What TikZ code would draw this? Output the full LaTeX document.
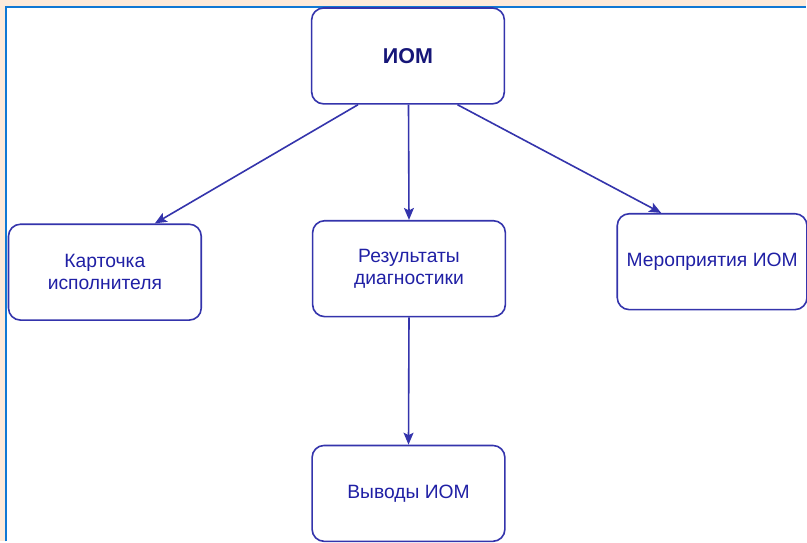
\documentclass[tikz,border=0pt]{standalone}
\usepackage{fontspec}
\setmainfont{Liberation Sans}
\usepackage{xcolor}
\usetikzlibrary{
    arrows.meta,
    shapes,
    positioning
}
\definecolor{peach}{RGB}{253,234,218}
\definecolor{framblue}{RGB}{16,120,212}
\definecolor{boxblue}{RGB}{52,52,172}
\definecolor{txtblue}{RGB}{32,32,165}
\definecolor{iomtext}{RGB}{22,22,120}
\tikzset{%
    >={Stealth[width=10pt,length=12pt,inset=2.5pt]},
    % Specifications for style of nodes:
    plain/.style = {},
    base/.style = {
        plain,
        rectangle, rounded corners=12pt, draw=boxblue, line width=1.6pt,
        minimum width=193pt, minimum height=96pt,
        text centered, font=\fontsize{19.3}{22.5}\selectfont,
        text=txtblue, fill=white, align=center
    },
    root/.style = {base, font=\fontsize{21.5}{25}\selectfont\bfseries, text=iomtext},
    link/.style = {->, draw=boxblue, line width=1.6pt}
}
\begin{document}
\begin{tikzpicture}[node distance=213pt]
% background and frame
\fill[peach] (0,0) rectangle (807pt,-542pt);
\fill[white] (6pt,-6.6pt) rectangle (807pt,-542pt);
\draw[framblue, line width=2pt] (6pt,-542pt) -- (6pt,-6.6pt) -- (807pt,-6.6pt);
\useasboundingbox (0,0) rectangle (807pt,-542pt);
% Specification of nodes (position, etc.)
\node (iom)  [root] at (408.5pt,-56pt) {ИОМ};
\node (res)  [base, below of=iom, xshift=1pt] {Результаты\\диагностики};
\node (kart) [base, left of=res, xshift=-91.5pt, yshift=-3.5pt] {Карточка\\исполнителя};
\node (mer)  [base, right of=res, xshift=90.5pt, yshift=7pt, minimum width=190pt] {Мероприятия ИОМ};
\node (vyv)  [base, below of=res, yshift=-12pt, xshift=-0.5pt] {Выводы ИОМ};
% Specification of paths
\draw[link] ([xshift=-50pt]iom.south) -- ([xshift=50pt]kart.north);
\draw[link] ([xshift=0.5pt]iom.south) -- (res.north);
\draw[link] ([xshift=49.5pt]iom.south) -- ([xshift=-51pt]mer.north);
\draw[link] (res.south) -- (vyv.north);
\end{tikzpicture}
\end{document}
